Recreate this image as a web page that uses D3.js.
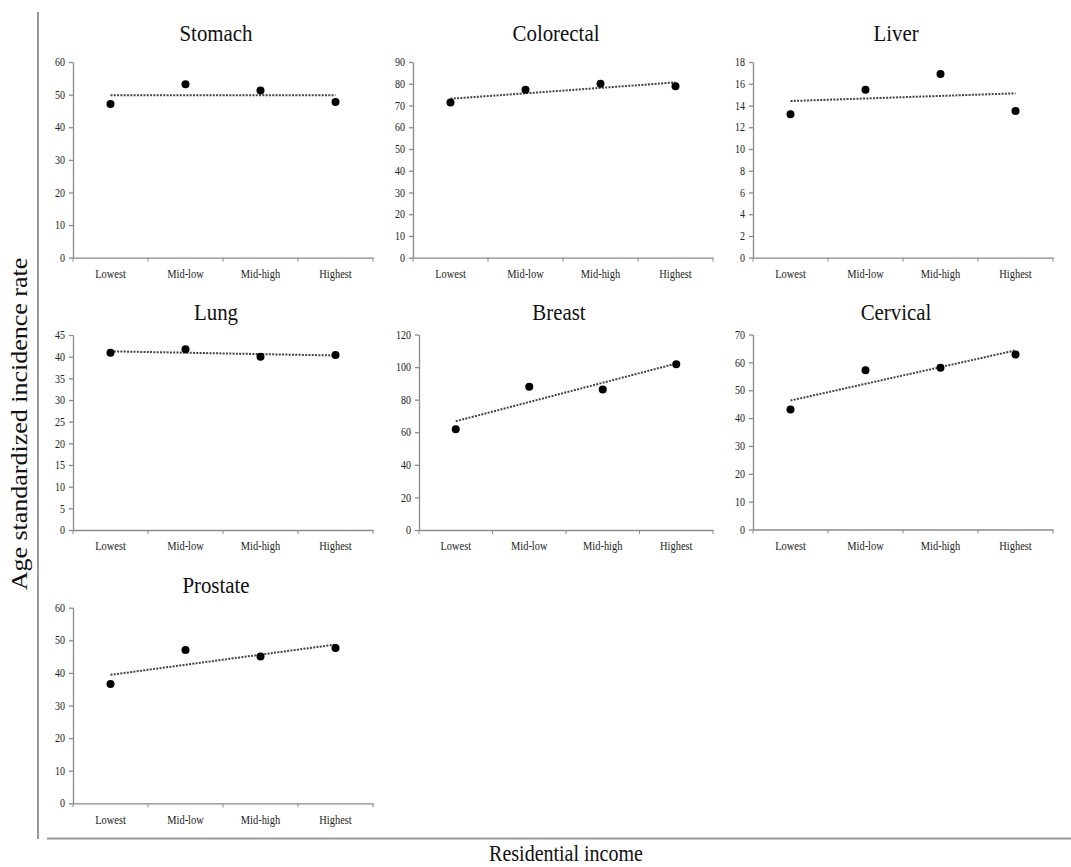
<!DOCTYPE html>
<meta charset="utf-8">
<script src="https://d3js.org/d3.v7.min.js"></script>
<style>
  body { margin: 0; background: #fff; }
  text { font-family: "Liberation Serif", "Times New Roman", serif; }
</style>
<div id="chart"></div>
<script>
  // data
  const categories = ["Lowest", "Mid-low", "Mid-high", "Highest"];
  const cancers = ["Stomach", "Colorectal", "Liver", "Lung", "Breast", "Cervical", "Prostate"];
  const stomach = [47.1, 53.2, 51.3, 47.7];
  const colorectal = [71.4, 77.2, 80.0, 78.8];
  const liver = [13.2, 15.45, 16.9, 13.5];
  const lung = [40.9, 41.7, 40.0, 40.4];
  const breast = [61.9, 87.9, 86.3, 101.8];
  const cervical = [43.1, 57.2, 58.1, 62.8];
  const prostate = [36.6, 47.0, 45.0, 47.6];
  const yMax = [60, 90, 18, 45, 120, 70, 60];
  const yStep = [10, 10, 2, 5, 20, 10, 10];

  const series = [stomach, colorectal, liver, lung, breast, cervical, prostate];

  // panel placement (plot area of each small chart)
  const layout = [
    { left: 73, right: 373, top: 62, bottom: 257.7, titleY: 41 },
    { left: 413, right: 713, top: 62, bottom: 257.7, titleY: 41 },
    { left: 753, right: 1053, top: 62, bottom: 257.7, titleY: 41 },
    { left: 73, right: 373, top: 335, bottom: 530, titleY: 320 },
    { left: 419, right: 713, top: 334.5, bottom: 530, titleY: 320 },
    { left: 753, right: 1053, top: 334.5, bottom: 529.5, titleY: 320 },
    { left: 73, right: 373, top: 607.7, bottom: 803.3, titleY: 593 }
  ];

  const W = 1071, H = 867;
  const squeeze = 0.87; // the text in the source is a bit narrow
  const axisColor = "#8a8a8a";

  const svg = d3.select("#chart")
    .append("svg")
    .attr("width", W)
    .attr("height", H);

  // outer frame (left + bottom)
  svg.append("line")
    .attr("x1", 38).attr("x2", 38).attr("y1", 12).attr("y2", 839)
    .attr("stroke", "#999").attr("stroke-width", 2);
  svg.append("line")
    .attr("x1", 47).attr("x2", W).attr("y1", 838.5).attr("y2", 838.5)
    .attr("stroke", "#999").attr("stroke-width", 2);

  // shared axis titles
  svg.append("text")
    .attr("transform", `translate(27, 424) scale(${squeeze},1) rotate(-90)`)
    .attr("text-anchor", "middle")
    .style("font-size", "26px")
    .attr("fill", "#111")
    .text("Age standardized incidence rate");

  svg.append("text")
    .attr("transform", `translate(566, 861) scale(${squeeze},1)`)
    .attr("text-anchor", "middle")
    .style("font-size", "23px")
    .attr("fill", "#111")
    .text("Residential income");

  cancers.forEach(function (name, i) {
    const p = layout[i];
    const values = series[i];
    const g = svg.append("g");

    const x = d3.scaleBand()
      .domain(categories)
      .range([p.left, p.right])
      .padding(0);

    const y = d3.scaleLinear()
      .domain([0, yMax[i]])
      .range([p.bottom, p.top]);

    // title
    g.append("text")
      .attr("transform", `translate(${(p.left - 14 + p.right) / 2}, ${p.titleY}) scale(${squeeze},1)`)
      .attr("text-anchor", "middle")
      .style("font-size", "24px")
      .attr("fill", "#111")
      .text(name);

    // Y axis
    const yAxis = g.append("g")
      .attr("transform", `translate(${p.left}, 0)`)
      .call(d3.axisLeft(y)
        .tickValues(d3.range(0, yMax[i] + yStep[i] / 2, yStep[i]))
        .tickSize(4)
        .tickSizeOuter(0)
        .tickPadding(4));
    yAxis.selectAll("text")
      .attr("x", -8 / squeeze)
      .attr("transform", `scale(${squeeze},1)`)
      .style("font-size", "11.5px")
      .style("font-family", "Liberation Serif")
      .attr("fill", "#222");

    // X axis: line, ticks at band edges, labels at band centres
    const xAxis = g.append("g")
      .attr("transform", `translate(0, ${p.bottom})`)
      .call(d3.axisBottom(x).tickSize(0).tickSizeOuter(0).tickPadding(0));
    xAxis.selectAll("text")
      .attr("y", 20.5)
      .attr("dy", null)
      .attr("transform", `scale(${squeeze},1)`)
      .style("font-size", "12px")
      .style("font-family", "Liberation Serif")
      .attr("fill", "#222");
    const edges = categories.map(c => x(c)).concat([x.range()[1]]);
    xAxis.selectAll(".edge")
      .data(edges)
      .enter()
      .append("line")
      .attr("class", "edge")
      .attr("x1", d => d).attr("x2", d => d)
      .attr("y1", 0).attr("y2", 4)
      .attr("stroke", axisColor);

    g.selectAll(".domain, .tick line")
      .attr("stroke", axisColor)
      .attr("stroke-width", 1.3);

    // linear trend (least squares on category index)
    const n = values.length;
    const mx = d3.mean(d3.range(n));
    const my = d3.mean(values);
    const slope = d3.sum(values, (v, k) => (k - mx) * (v - my)) / d3.sum(d3.range(n), k => (k - mx) * (k - mx));
    const fit = k => my + slope * (k - mx);

    g.append("line")
      .attr("x1", x(categories[0]) + x.bandwidth() / 2)
      .attr("x2", x(categories[n - 1]) + x.bandwidth() / 2)
      .attr("y1", y(fit(0)))
      .attr("y2", y(fit(n - 1)))
      .attr("stroke", "#444")
      .attr("stroke-width", 2)
      .attr("stroke-dasharray", "2,1.3");

    // points
    g.selectAll("circle")
      .data(values)
      .enter()
      .append("circle")
      .attr("cx", (d, k) => x(categories[k]) + x.bandwidth() / 2)
      .attr("cy", d => y(d))
      .attr("r", 4)
      .attr("fill", "#000");
  });
</script>
